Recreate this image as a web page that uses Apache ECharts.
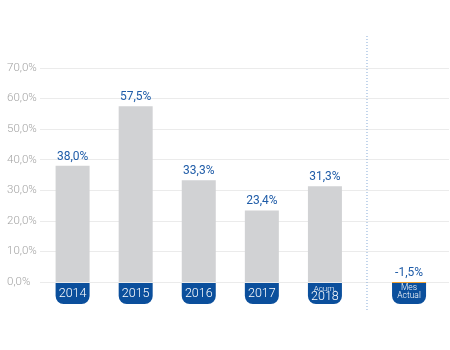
<!DOCTYPE html>
<html>
<head>
<meta charset="utf-8">
<script src="https://cdn.jsdelivr.net/npm/echarts@6/dist/echarts.min.js"></script>
<style>
  html, body { margin: 0; padding: 0; background: #fff; }
  #chart { width: 450px; height: 350px; }
</style>
</head>
<body>
<div id="chart"></div>
<script>
// Annual return figures, plus the current month on the far right
const categories = ['2014', '2015', '2016', '2017', 'Acum.\n2018', 'Mes\nActual'];
const values = [38.0, 57.5, 33.3, 23.4, 31.3, -1.5];
const yTicks = [0, 10, 20, 30, 40, 50, 60, 70];

// Layout: where each column sits along the x scale, and the separator slot
const SLOT = [0, 3, 6, 9, 12, 16];
const DIVIDER_AT = 14;

const BLUE = '#0b4f9c';
const fmtPct = v => v.toFixed(1).replace('.', ',') + '%';

const chart = echarts.init(document.getElementById('chart'));

function labelFor(v) {
  const i = SLOT.indexOf(Math.round(v));
  if (i < 0) return '';
  const name = categories[i];
  if (name.startsWith('Acum.')) {
    const [a, b] = name.split('\n');
    return '{s|' + a + '}\n{b|' + b + '}';
  }
  if (name.includes('\n')) {
    return name.split('\n').map(t => '{m|' + t + '}').join('\n');
  }
  return '{y|' + name + '}';
}

const boxText = { color: '#fff', width: 34, align: 'center', fontWeight: 300 };

chart.setOption({
  animation: false,
  textStyle: { fontFamily: 'Roboto' },
  grid: { left: 40, right: 1, top: 68, bottom: 68 },
  xAxis: {
    type: 'value',
    min: -1.55,
    max: 17.9,
    z: 5,
    splitLine: { show: false },
    axisLine: { show: false },
    axisTick: { show: false },
    axisLabel: {
      customValues: SLOT,
      margin: 1,
      formatter: labelFor,
      color: '#fff',
      backgroundColor: BLUE,
      borderRadius: [0, 0, 8, 8],
      width: 34,
      height: 21,
      align: 'center',
      verticalAlign: 'top',
      rich: {
        y: Object.assign({ fontSize: 12.5, lineHeight: 21 }, boxText),
        s: Object.assign({ fontSize: 8, lineHeight: 8, padding: [3, 0, 0, 0] }, boxText),
        b: Object.assign({ fontSize: 12.5, lineHeight: 11 }, boxText),
        m: Object.assign({ fontSize: 8.5, lineHeight: 8, padding: [2, 0, 0, 0] }, boxText)
      }
    }
  },
  yAxis: {
    type: 'value',
    min: yTicks[0],
    max: yTicks[yTicks.length - 1],
    interval: yTicks[1] - yTicks[0],
    axisLine: { show: false },
    axisTick: { show: false },
    axisLabel: {
      formatter: fmtPct,
      color: '#a3a3a3',
      fontSize: 11.5,
      fontWeight: 300,
      align: 'left',
      margin: 33
    },
    splitLine: { lineStyle: { color: '#ebebeb', width: 1 } }
  },
  series: [{
    type: 'bar',
    barWidth: 34,
    clip: false,
    data: values.map((v, i) => ({
      value: [SLOT[i], v],
      itemStyle: { color: v < 0 ? '#f0a030' : '#d1d2d4' }
    })),
    label: {
      show: true,
      position: 'top',
      distance: 3,
      color: '#1f5ca8',
      fontSize: 12,
      formatter: p => fmtPct(p.value[1])
    }
  }]
});

// Dotted separator between the yearly columns and the current month
const xDiv = chart.convertToPixel({ xAxisIndex: 0 }, DIVIDER_AT);
chart.setOption({
  graphic: [{
    type: 'line',
    shape: { x1: xDiv, y1: 36, x2: xDiv, y2: 312 },
    style: { stroke: '#86acd9', lineWidth: 1, lineDash: [1, 2] },
    z: 1
  }]
});
</script>
</body>
</html>
